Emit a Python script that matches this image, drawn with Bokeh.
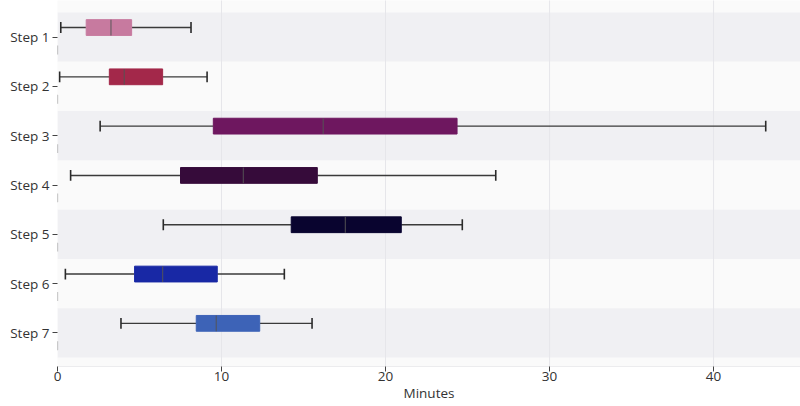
from bokeh.plotting import figure
from bokeh.models import Range1d, FixedTicker, ColumnDataSource
from bokeh.embed import file_html
from bokeh.resources import INLINE

steps = ["Step 1", "Step 2", "Step 3", "Step 4", "Step 5", "Step 6", "Step 7"]
low = [0.2, 0.13, 2.6, 0.8, 6.45, 0.48, 3.87]
q1 = [1.75, 3.16, 9.5, 7.5, 14.25, 4.7, 8.46]
median = [3.26, 4.07, 16.2, 11.33, 17.55, 6.41, 9.68]
q3 = [4.52, 6.41, 24.36, 15.84, 20.96, 9.74, 12.33]
high = [8.14, 9.12, 43.18, 26.72, 24.68, 13.83, 15.52]
colors = ["#c77a9f", "#a3284a", "#6e175f", "#360b3a", "#09042f", "#1828a5", "#3d63b7"]
x_ticks = [0, 10, 20, 30, 40]

pos = list(range(1, len(steps) + 1))
off = -0.195
bh = 0.32
cap = 0.22
yc = [p + off for p in pos]

src = ColumnDataSource(dict(
    pos=pos, yc=yc, low=low, q1=q1, median=median, q3=q3, high=high, color=colors,
    cap_top=[y - cap / 2 for y in yc], cap_bot=[y + cap / 2 for y in yc],
    b_top=[y - bh / 2 for y in yc], b_bot=[y + bh / 2 for y in yc],
    band_color=["#f0f0f3" if i % 2 == 0 else "#fafafa" for i in range(len(steps))],
    zero=[0] * len(steps),
    m_top=[p + 0.17 for p in pos], m_bot=[p + 0.35 for p in pos],
))
grid_src = ColumnDataSource(dict(x=x_ticks[1:], y0=[0] * 4, y1=[8] * 4))

p = figure(width=800, height=406, output_backend="svg", toolbar_location=None,
           x_range=Range1d(0, 45.3), y_range=Range1d(7.68, 0.257),
           min_border_left=57, min_border_right=0, min_border_top=0, min_border_bottom=40,
           background_fill_color="#fafafa", border_fill_color="white")
p.outline_line_color = None
p.grid.grid_line_color = None

# bands
p.hbar(y="pos", left=0, right=50, height=1.0, fill_color="band_color", line_color=None, source=src)
# vertical gridlines
p.segment(x0="x", y0="y0", x1="x", y1="y1", line_color="#e6e6ea", line_width=1, source=grid_src)

# whiskers
p.segment(x0="low", y0="yc", x1="q1", y1="yc", line_color="#3a3a3a", line_width=1.4, source=src)
p.segment(x0="q3", y0="yc", x1="high", y1="yc", line_color="#3a3a3a", line_width=1.4, source=src)
p.segment(x0="low", y0="cap_top", x1="low", y1="cap_bot", line_color="#2a2a2a", line_width=1.6, source=src)
p.segment(x0="high", y0="cap_top", x1="high", y1="cap_bot", line_color="#2a2a2a", line_width=1.6, source=src)
# boxes
p.quad(left="q1", right="q3", top="b_top", bottom="b_bot", fill_color="color", fill_alpha=1.0,
       line_color="color", line_width=1, source=src)
p.segment(x0="median", y0="b_top", x1="median", y1="b_bot", line_color="#555555", line_width=1.2,
          line_alpha=0.8, source=src)
# small marks at axis
p.segment(x0="zero", y0="m_top", x1="zero", y1="m_bot", line_color="#999999", line_width=1.2, source=src)

font = "Open Sans"
p.xaxis.ticker = FixedTicker(ticks=x_ticks)
p.xaxis.axis_label = "Minutes"
p.xaxis.axis_label_text_font = font
p.xaxis.axis_label_text_font_style = "normal"
p.xaxis.axis_label_text_font_size = "13.5px"
p.xaxis.axis_label_text_color = "#333333"
p.xaxis.axis_label_standoff = 0
p.xaxis.major_label_text_font = font
p.xaxis.major_label_text_font_size = "13.5px"
p.xaxis.major_label_text_color = "#333333"
p.xaxis.major_label_standoff = 0
p.xaxis.axis_line_color = "#ececee"
p.xaxis.major_tick_line_color = "#444444"
p.xaxis.major_tick_out = 5
p.xaxis.major_tick_in = 0
p.xaxis.minor_tick_line_color = None

p.yaxis.ticker = FixedTicker(ticks=pos)
p.yaxis.major_label_overrides = {i: s for i, s in zip(pos, steps)}
p.yaxis.major_label_text_font = font
p.yaxis.major_label_text_font_size = "13.5px"
p.yaxis.major_label_text_color = "#333333"
p.yaxis.major_label_standoff = 3
p.yaxis.axis_line_color = None
p.yaxis.major_tick_line_color = "#444444"
p.yaxis.major_tick_out = 5
p.yaxis.major_tick_in = 0
p.yaxis.minor_tick_line_color = None

open("out.html", "w").write(file_html(p, INLINE))
